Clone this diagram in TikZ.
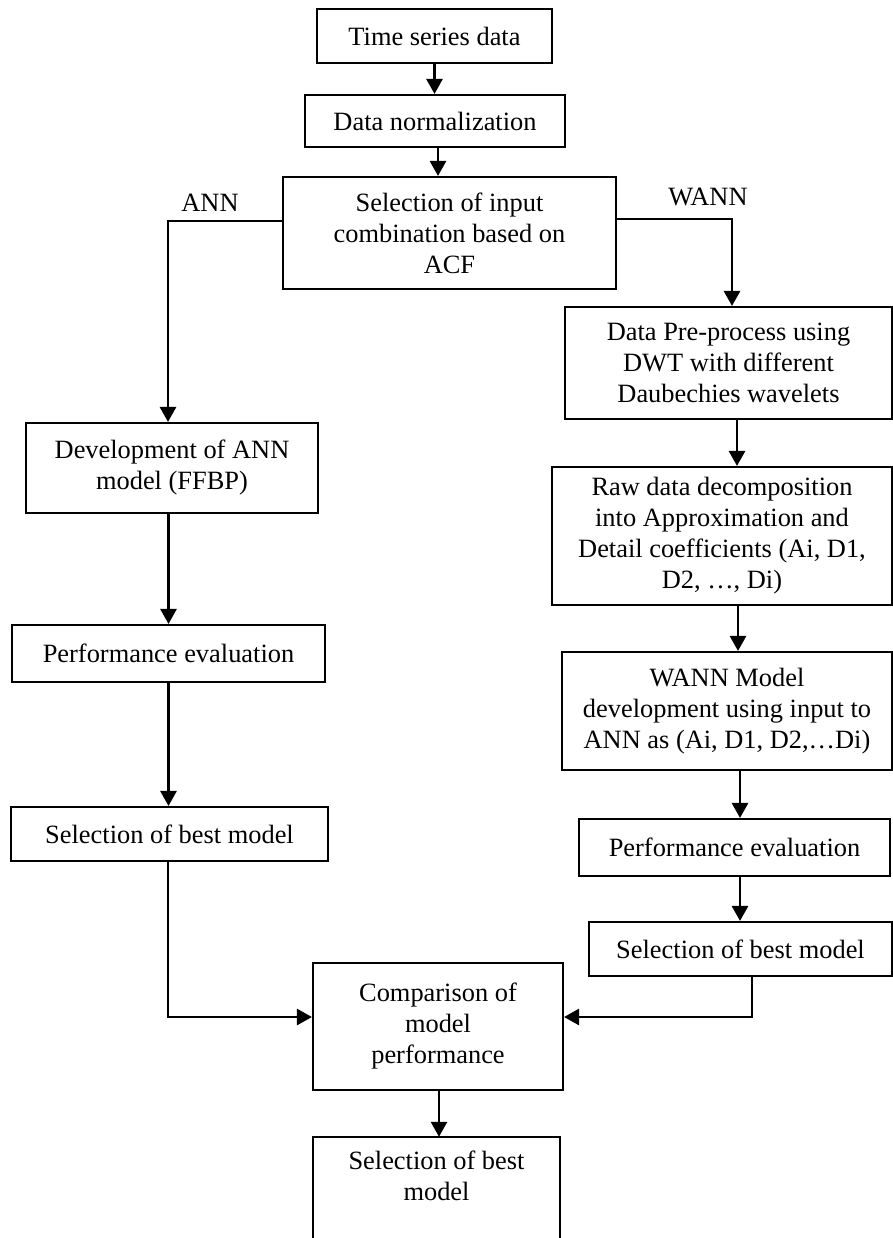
\documentclass[tikz,border=0pt]{standalone}
\usepackage{fontspec}
\setmainfont{Liberation Serif}
\usetikzlibrary{arrows.meta,calc}
\tikzset{
  boxnode/.style={draw, line width=2.1pt, inner sep=0pt, align=center, font=\fontsize{26.4}{31}\selectfont},
  plainnode/.style={inner sep=0pt, align=center, font=\fontsize{26.4}{31}\selectfont},
  arr/.style={line width=2.7pt, -{Triangle[width=16pt,length=15pt]}},
}
\begin{document}
\begin{tikzpicture}[x=1pt,y=-1pt]
\useasboundingbox (0,0) rectangle (893,1238);
% top
\node[boxnode, minimum width=235pt, minimum height=54pt] (ts) at (434.5,36) {Time series data};
\node[boxnode, minimum width=260pt, minimum height=52pt] (dn) at (435,121) {Data normalization};
\node[boxnode, minimum width=333pt, minimum height=112pt] (sel) at (449.5,233) {Selection of input\\combination based on\\ACF};
\node[plainnode] (lann) at (210,203) {ANN};
\node[plainnode] (lwann) at (708,197) {WANN};
% left column
\node[boxnode, minimum width=292pt, minimum height=90pt] (dev) at (172,468) {Development of ANN\\model (FFBP)};
\node[boxnode, minimum width=313pt, minimum height=57pt] (pe1) at (168.5,653.5) {Performance evaluation};
\node[boxnode, minimum width=317pt, minimum height=54pt] (sb1) at (169.5,834) {Selection of best model};
% right column
\node[boxnode, minimum width=327pt, minimum height=112pt] (dwt) at (728.5,363) {Data Pre-process using\\DWT with different\\Daubechies wavelets};
\node[boxnode, minimum width=340pt, minimum height=138pt] (raw) at (722,536) {Raw data decomposition\\into Approximation and\\Detail coefficients (Ai, D1,\\D2, \dots, Di)};
\node[boxnode, minimum width=330pt, minimum height=118pt] (wann) at (727,711) {WANN Model\\development using input to\\ANN as (Ai, D1, D2,\dots Di)};
\node[boxnode, minimum width=311pt, minimum height=57pt] (pe2) at (734.5,847.5) {Performance evaluation};
\node[boxnode, minimum width=303pt, minimum height=54pt] (sb2) at (740.5,949) {Selection of best model};
% bottom
\node[boxnode, minimum width=250pt, minimum height=127pt] (cmp) at (438,1026.5) {Comparison of\\model\\performance};
\node[inner sep=0pt, minimum width=247pt, minimum height=101pt] (fin) at (436.5,1187.5) {};
\node[plainnode, anchor=north] (fintxt) at (436.5,1151) {Selection of best\\model};
\draw[line width=2.1pt] (fin.south west) -- (fin.north west) -- (fin.north east) -- (fin.south east);
% connectors
\draw[arr] (ts.south) -- (ts.south |- dn.north);
\draw[arr] ([xshift=3pt]dn.south) -- ([xshift=3pt]dn.south |- sel.north);
\draw[arr] ([yshift=12pt]sel.west) -| ([xshift=-4pt]dev.north);
\draw[arr] ([yshift=14pt]sel.east) -| ([xshift=3.5pt]dwt.north);
\draw[arr] (pe1.north |- dev.south) -- (pe1.north);
\draw[arr] (pe1.south) -- (pe1.south |- sb1.north);
\draw[arr] ([xshift=8.5pt]dwt.south) -- ([xshift=8.5pt]dwt.south |- raw.north);
\draw[arr] ([xshift=16pt]raw.south) -- ([xshift=16pt]raw.south |- wann.north);
\draw[arr] ([xshift=13pt]wann.south) -- ([xshift=13pt]wann.south |- pe2.north);
\draw[arr] ([xshift=5.5pt]pe2.south) -- ([xshift=5.5pt]pe2.south |- sb2.north);
\draw[arr] ([xshift=-1.5pt]sb1.south) |- ([yshift=9.5pt]cmp.west);
\draw[arr] ([xshift=11.5pt]sb2.south) |- ([yshift=9.5pt]cmp.east);
\draw[arr] ([xshift=1pt]cmp.south) -- ([xshift=1pt]cmp.south |- fin.north);
\end{tikzpicture}
\end{document}
